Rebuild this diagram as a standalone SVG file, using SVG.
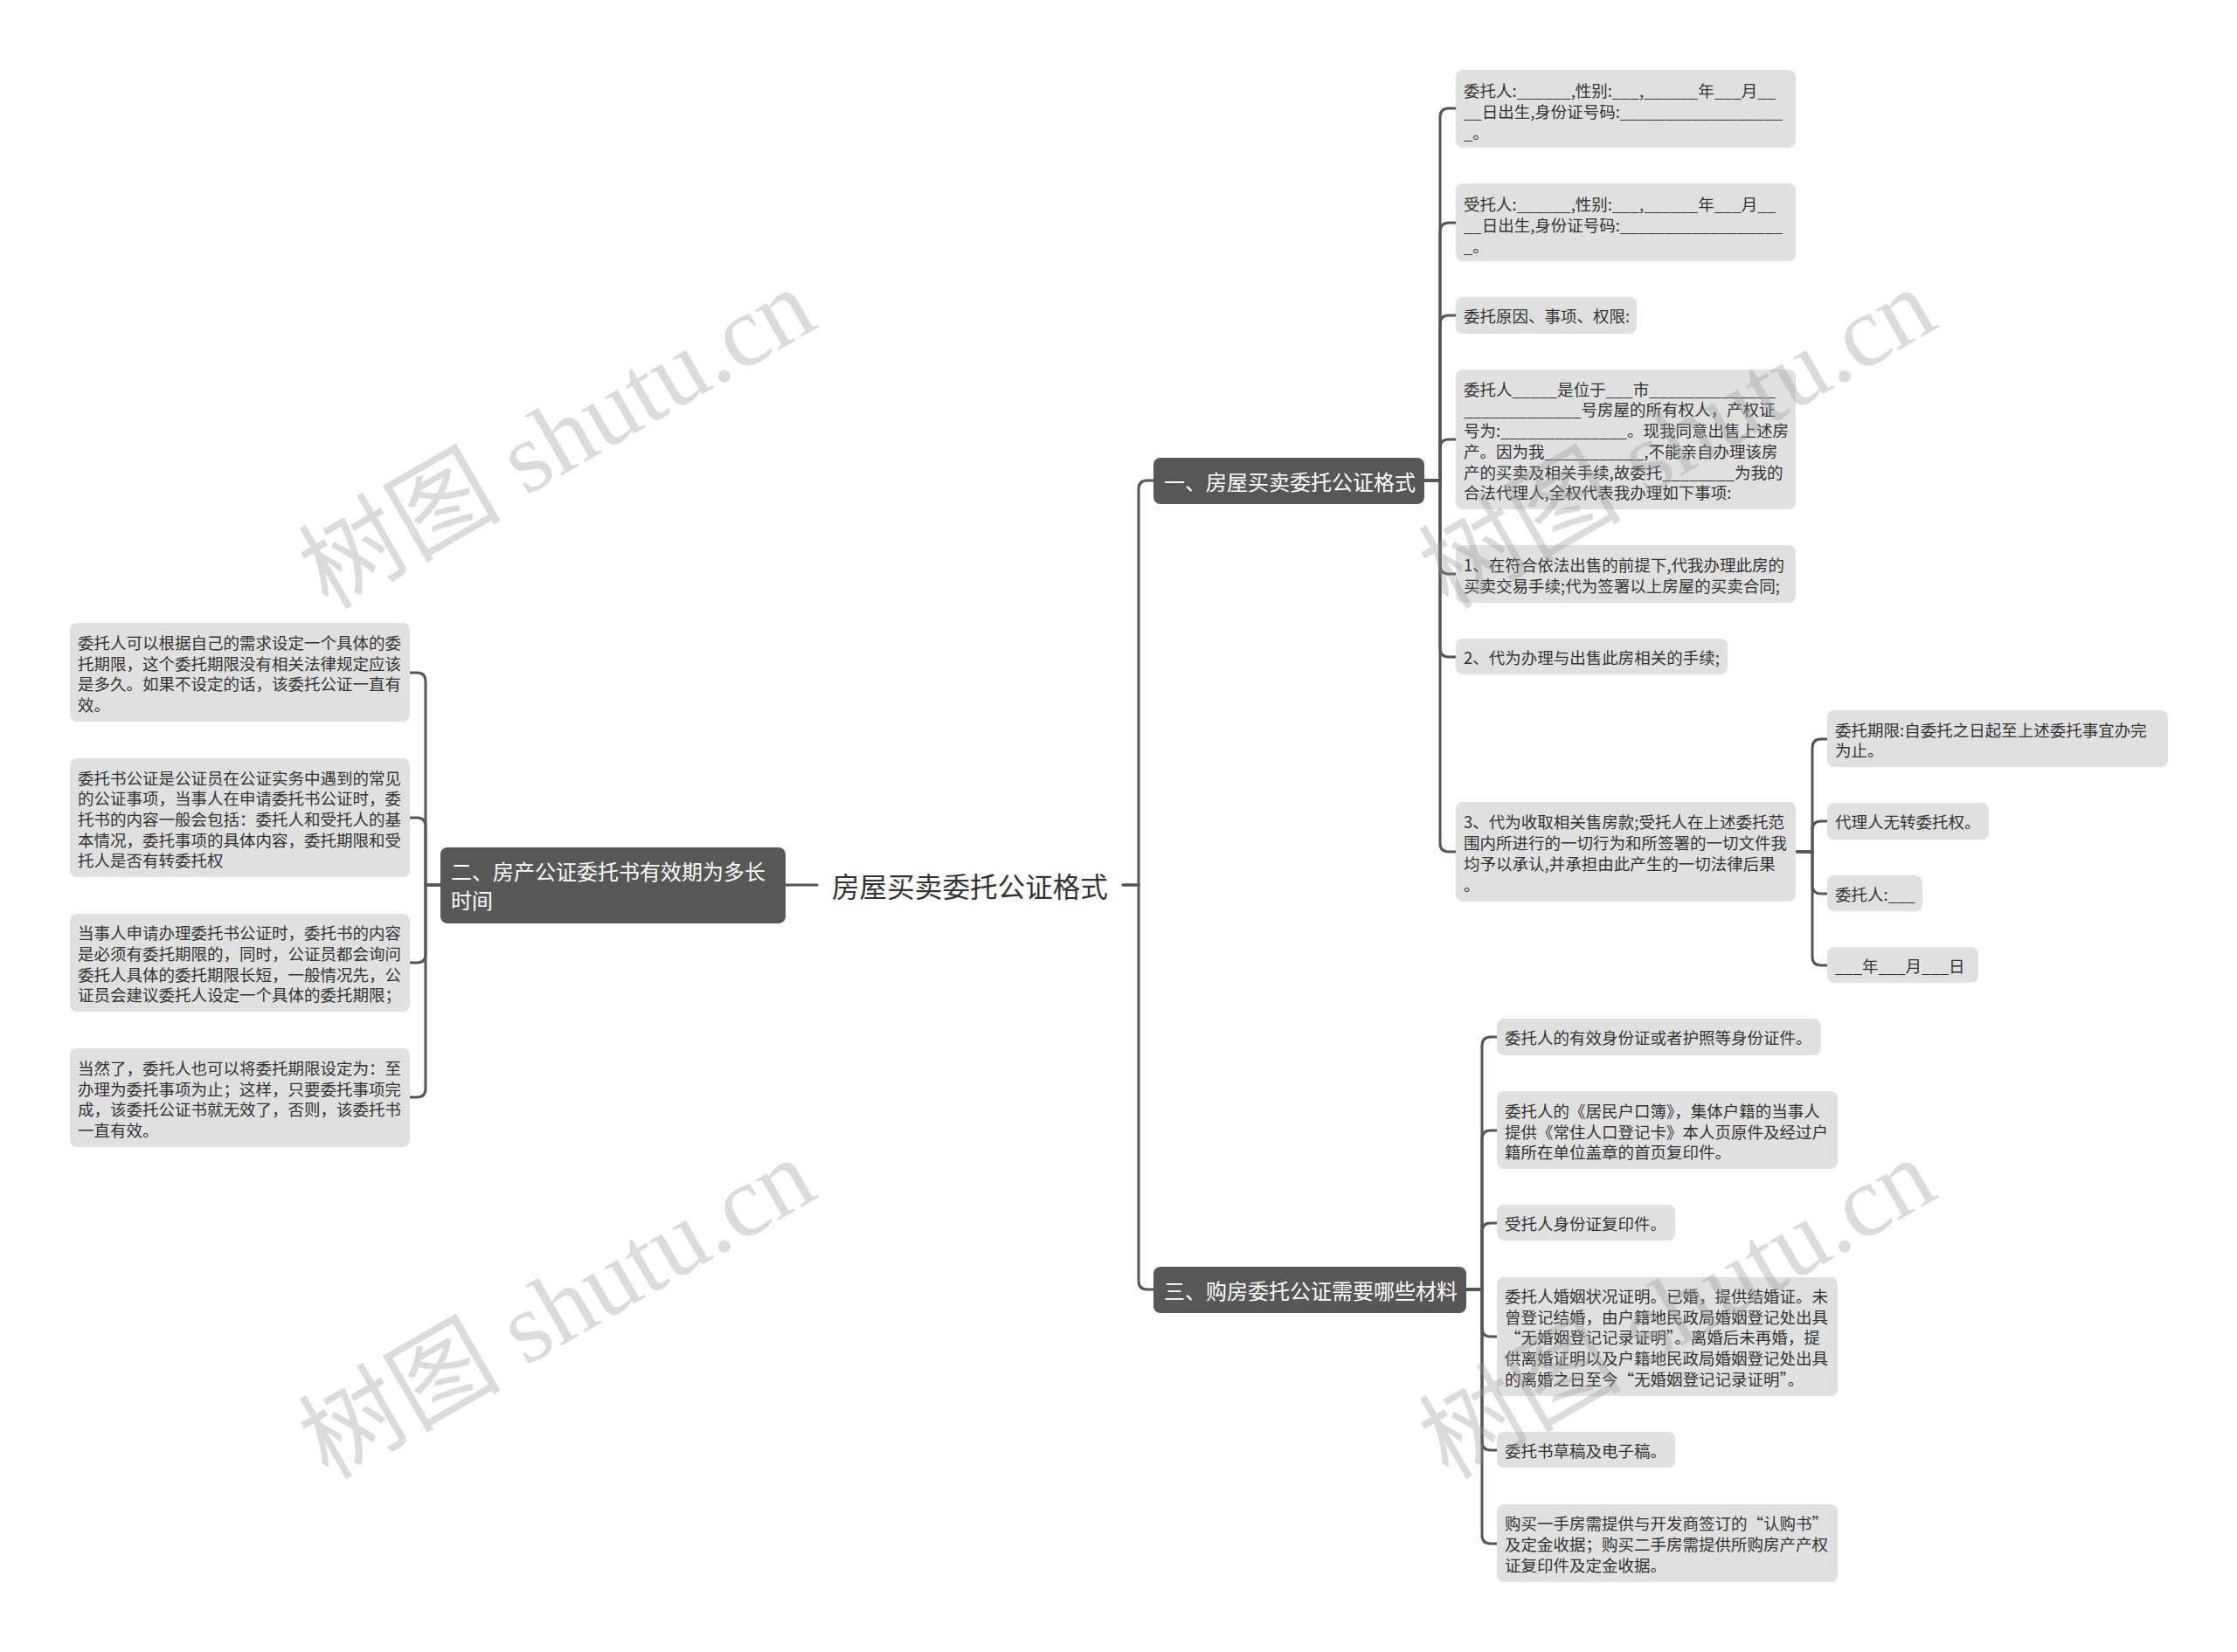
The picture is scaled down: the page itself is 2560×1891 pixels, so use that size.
<svg xmlns="http://www.w3.org/2000/svg" width="2560" height="1891" viewBox="0 0 2560 1891">
<style>
.bg{fill:#ffffff}
.leaf{fill:#e0e0e0}
.br{fill:#575757}
.t{font-family:"Noto Sans CJK SC","Liberation Sans",sans-serif;font-size:18.5px;fill:#333333;dominant-baseline:central}
.tb{font-family:"Noto Sans CJK SC","Liberation Sans",sans-serif;font-size:24px;fill:#ffffff;dominant-baseline:central}
.root{font-family:"Noto Sans CJK SC","Liberation Sans",sans-serif;font-size:31.6px;fill:#333333;dominant-baseline:central;text-anchor:middle}
.c{fill:none;stroke:#555555;stroke-width:3;stroke-linecap:round}
.wm{font-family:"Liberation Serif","Noto Sans CJK SC",serif;font-size:116px;fill:#9a9a9a;fill-opacity:0.36;text-anchor:middle}
</style>
<rect class="bg" x="0" y="0" width="2560" height="1891"/>

<g id="connectors">
  <path class="c" d="M899 1013 H935"/>
  <path class="c" d="M1285 1013 H1303 V560 Q1303 550 1313 550 H1320"/>
  <path class="c" d="M1285 1013 H1303 V1466 Q1303 1476 1313 1476 H1320"/>
  <path class="c" d="M504 1013 H487 V780 Q487 770 477 770 H469"/>
  <path class="c" d="M504 1013 H487 V946 Q487 936 477 936 H469"/>
  <path class="c" d="M504 1013 H487 V1092 Q487 1102 477 1102 H469"/>
  <path class="c" d="M504 1013 H487 V1246 Q487 1256 477 1256 H469"/>
  <path class="c" d="M1630 550 H1648 V134 Q1648 124 1658 124 H1666"/>
  <path class="c" d="M1630 550 H1648 V265 Q1648 255 1658 255 H1666"/>
  <path class="c" d="M1630 550 H1648 V371 Q1648 361 1658 361 H1666"/>
  <path class="c" d="M1630 550 H1648 V513 Q1648 503 1658 503 H1666"/>
  <path class="c" d="M1630 550 H1648 V647 Q1648 657 1658 657 H1666"/>
  <path class="c" d="M1630 550 H1648 V742 Q1648 752 1658 752 H1666"/>
  <path class="c" d="M1630 550 H1648 V965 Q1648 975 1658 975 H1666"/>
  <path class="c" d="M2055 975 H2074 V856 Q2074 846 2084 846 H2091"/>
  <path class="c" d="M2055 975 H2074 V950 Q2074 940 2084 940 H2091"/>
  <path class="c" d="M2055 975 H2074 V1013 Q2074 1023 2084 1023 H2091"/>
  <path class="c" d="M2055 975 H2074 V1095 Q2074 1105 2084 1105 H2091"/>
  <path class="c" d="M1678 1476 H1696 V1197 Q1696 1187 1706 1187 H1713"/>
  <path class="c" d="M1678 1476 H1696 V1304 Q1696 1294 1706 1294 H1713"/>
  <path class="c" d="M1678 1476 H1696 V1410 Q1696 1400 1706 1400 H1713"/>
  <path class="c" d="M1678 1476 H1696 V1520 Q1696 1530 1706 1530 H1713"/>
  <path class="c" d="M1678 1476 H1696 V1650 Q1696 1660 1706 1660 H1713"/>
  <path class="c" d="M1678 1476 H1696 V1757 Q1696 1767 1706 1767 H1713"/>
</g>

<g id="root">
  <text class="root" x="1110" y="1013">房屋买卖委托公证格式</text>
</g>

<g id="b2">
  <rect class="br" x="504" y="970" width="395" height="87" rx="8"/>
  <text class="tb" x="516" y="996">二、房产公证委托书有效期为多长</text>
  <text class="tb" x="516" y="1029">时间</text>
</g>

<g id="l1">
  <rect class="leaf" x="80" y="713" width="389" height="113" rx="8"/>
  <text class="t" x="89" y="735">委托人可以根据自己的需求设定一个具体的委</text>
  <text class="t" x="89" y="759">托期限，这个委托期限没有相关法律规定应该</text>
  <text class="t" x="89" y="782">是多久。如果不设定的话，该委托公证一直有</text>
  <text class="t" x="89" y="806">效。</text>
</g>
<g id="l2">
  <rect class="leaf" x="80" y="868" width="389" height="136" rx="8"/>
  <text class="t" x="89" y="890">委托书公证是公证员在公证实务中遇到的常见</text>
  <text class="t" x="89" y="913">的公证事项，当事人在申请委托书公证时，委</text>
  <text class="t" x="89" y="937">托书的内容一般会包括：委托人和受托人的基</text>
  <text class="t" x="89" y="961">本情况，委托事项的具体内容，委托期限和受</text>
  <text class="t" x="89" y="984">托人是否有转委托权</text>
</g>
<g id="l3">
  <rect class="leaf" x="80" y="1046" width="389" height="112" rx="8"/>
  <text class="t" x="89" y="1067">当事人申请办理委托书公证时，委托书的内容</text>
  <text class="t" x="89" y="1091">是必须有委托期限的，同时，公证员都会询问</text>
  <text class="t" x="89" y="1115">委托人具体的委托期限长短，一般情况先，公</text>
  <text class="t" x="89" y="1138">证员会建议委托人设定一个具体的委托期限；</text>
</g>
<g id="l4">
  <rect class="leaf" x="80" y="1200" width="389" height="113" rx="8"/>
  <text class="t" x="89" y="1222">当然了，委托人也可以将委托期限设定为：至</text>
  <text class="t" x="89" y="1246">办理为委托事项为止；这样，只要委托事项完</text>
  <text class="t" x="89" y="1269">成，该委托公证书就无效了，否则，该委托书</text>
  <text class="t" x="89" y="1293">一直有效。</text>
</g>

<g id="b1">
  <rect class="br" x="1320" y="524" width="310" height="53" rx="8"/>
  <text class="tb" x="1332" y="550">一、房屋买卖委托公证格式</text>
</g>

<g id="r1">
  <rect class="leaf" x="1666" y="80" width="389" height="89" rx="8"/>
  <text class="t" x="1675" y="103">委托人:______,性别:___,______年___月__</text>
  <text class="t" x="1675" y="127">__日出生,身份证号码:__________________</text>
  <text class="t" x="1675" y="151">_。</text>
</g>
<g id="r2">
  <rect class="leaf" x="1666" y="210" width="389" height="89" rx="8"/>
  <text class="t" x="1675" y="233">受托人:______,性别:___,______年___月__</text>
  <text class="t" x="1675" y="257">__日出生,身份证号码:__________________</text>
  <text class="t" x="1675" y="281">_。</text>
</g>
<g id="r3">
  <rect class="leaf" x="1666" y="340" width="207" height="42" rx="8"/>
  <text class="t" x="1675" y="361">委托原因、事项、权限:</text>
</g>
<g id="r4">
  <rect class="leaf" x="1666" y="423" width="389" height="160" rx="8"/>
  <text class="t" x="1675" y="445">委托人_____是位于___市______________</text>
  <text class="t" x="1675" y="468">_____________号房屋的所有权人，产权证</text>
  <text class="t" x="1675" y="492">号为:______________。现我同意出售上述房</text>
  <text class="t" x="1675" y="516">产。因为我___________,不能亲自办理该房</text>
  <text class="t" x="1675" y="540">产的买卖及相关手续,故委托________为我的</text>
  <text class="t" x="1675" y="563">合法代理人,全权代表我办理如下事项:</text>
</g>
<g id="r5">
  <rect class="leaf" x="1666" y="624" width="389" height="66" rx="8"/>
  <text class="t" x="1675" y="646">1、在符合依法出售的前提下,代我办理此房的</text>
  <text class="t" x="1675" y="670">买卖交易手续;代为签署以上房屋的买卖合同;</text>
</g>
<g id="r6">
  <rect class="leaf" x="1666" y="731" width="311" height="41" rx="8"/>
  <text class="t" x="1675" y="752">2、代为办理与出售此房相关的手续;</text>
</g>
<g id="r7">
  <rect class="leaf" x="1666" y="918" width="389" height="114" rx="8"/>
  <text class="t" x="1675" y="940">3、代为收取相关售房款;受托人在上述委托范</text>
  <text class="t" x="1675" y="964">围内所进行的一切行为和所签署的一切文件我</text>
  <text class="t" x="1675" y="988">均予以承认,并承担由此产生的一切法律后果</text>
  <text class="t" x="1675" y="1012">。</text>
</g>
<g id="c1">
  <rect class="leaf" x="2091" y="813" width="390" height="65" rx="8"/>
  <text class="t" x="2100" y="835">委托期限:自委托之日起至上述委托事宜办完</text>
  <text class="t" x="2100" y="858">为止。</text>
</g>
<g id="c2">
  <rect class="leaf" x="2091" y="919" width="185" height="42" rx="8"/>
  <text class="t" x="2100" y="940">代理人无转委托权。</text>
</g>
<g id="c3">
  <rect class="leaf" x="2091" y="1002" width="109" height="41" rx="8"/>
  <text class="t" x="2100" y="1023">委托人:___</text>
</g>
<g id="c4">
  <rect class="leaf" x="2091" y="1084" width="173" height="41" rx="8"/>
  <text class="t" x="2100" y="1105">___年___月___日</text>
</g>

<g id="b3">
  <rect class="br" x="1320" y="1450" width="358" height="53" rx="8"/>
  <text class="tb" x="1332" y="1476">三、购房委托公证需要哪些材料</text>
</g>
<g id="t1">
  <rect class="leaf" x="1713" y="1166" width="371" height="42" rx="8"/>
  <text class="t" x="1722" y="1187">委托人的有效身份证或者护照等身份证件。</text>
</g>
<g id="t2">
  <rect class="leaf" x="1713" y="1249" width="390" height="89" rx="8"/>
  <text class="t" x="1722" y="1271">委托人的《居民户口簿》，集体户籍的当事人</text>
  <text class="t" x="1722" y="1295">提供《常住人口登记卡》本人页原件及经过户</text>
  <text class="t" x="1722" y="1318">籍所在单位盖章的首页复印件。</text>
</g>
<g id="t3">
  <rect class="leaf" x="1713" y="1379" width="204" height="41" rx="8"/>
  <text class="t" x="1722" y="1400">受托人身份证复印件。</text>
</g>
<g id="t4">
  <rect class="leaf" x="1713" y="1462" width="390" height="136" rx="8"/>
  <text class="t" x="1722" y="1483">委托人婚姻状况证明。已婚，提供结婚证。未</text>
  <text class="t" x="1722" y="1507">曾登记结婚，由户籍地民政局婚姻登记处出具</text>
  <text class="t" x="1722" y="1530">“无婚姻登记记录证明”。离婚后未再婚，提</text>
  <text class="t" x="1722" y="1554">供离婚证明以及户籍地民政局婚姻登记处出具</text>
  <text class="t" x="1722" y="1578">的离婚之日至今“无婚姻登记记录证明”。</text>
</g>
<g id="t5">
  <rect class="leaf" x="1713" y="1639" width="204" height="41" rx="8"/>
  <text class="t" x="1722" y="1660">委托书草稿及电子稿。</text>
</g>
<g id="t6">
  <rect class="leaf" x="1713" y="1722" width="390" height="89" rx="8"/>
  <text class="t" x="1722" y="1743">购买一手房需提供与开发商签订的“认购书”</text>
  <text class="t" x="1722" y="1767">及定金收据；购买二手房需提供所购房产产权</text>
  <text class="t" x="1722" y="1791">证复印件及定金收据。</text>
</g>

<g id="watermarks">
  <text class="wm" transform="translate(657 536) rotate(-30)">树图 shutu.cn</text>
  <text class="wm" transform="translate(1939 536) rotate(-30)">树图 shutu.cn</text>
  <text class="wm" transform="translate(657 1532) rotate(-30)">树图 shutu.cn</text>
  <text class="wm" transform="translate(1939 1532) rotate(-30)">树图 shutu.cn</text>
</g>
</svg>
